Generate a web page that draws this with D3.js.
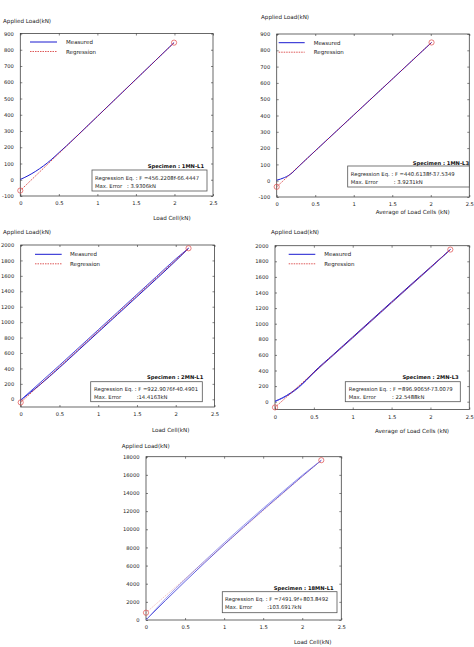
<!DOCTYPE html>
<html>
<head>
<meta charset="utf-8">
<script src="https://cdn.jsdelivr.net/npm/d3@7"></script>
<style>
  body { margin: 0; background: #fff; }
  svg { display: block; font-family: "DejaVu Sans", sans-serif; }
  .tick line { stroke: #333; stroke-width: 0.6; }
  .tick text { fill: #222; }
</style>
</head>
<body>
<svg width="474" height="647"></svg>
<script>
// **** data ****

var xTicks = [0, 0.5, 1, 1.5, 2, 2.5];
var yTicksSmall = [-100, 0, 100, 200, 300, 400, 500, 600, 700, 800, 900];
var yTicksMid = [0, 200, 400, 600, 800, 1000, 1200, 1400, 1600, 1800, 2000];
var yTicksBig = [0, 2000, 4000, 6000, 8000, 10000, 12000, 14000, 16000, 18000];

var specimens = ["1MN-L1", "1MN-L3", "2MN-L1", "2MN-L3", "18MN-L1"];
var xTitles = ["Load Cell(kN)", "Average of Load Cells (kN)", "Load Cell(kN)",
               "Average of Load Cells (kN)", "Load Cell(kN)"];
var eqTexts = ["F =456.2208f-66.4447", "F =440.6138f-37.5349", "F =922.9076f-40.4901",
               "F =896.9065f-73.0079", "F =7491.9f+803.8492"];
var errTexts = [": 3.9306kN", ": 3.9231kN", ":14.4163kN", ": 22.5488kN", ":103.6917kN"];
var slopes = [456.2208, 440.6138, 922.9076, 896.9065, 7491.9];
var intercepts = [-66.4447, -37.5349, -40.4901, -73.0079, 803.8492];
var fMax = [1.995, 2.01, 2.165, 2.256, 2.244];

// measured curves [load cell, applied load]
var meas1 = [[0, 2], [0.05, 12.6], [0.1, 24.6], [0.15, 37.8], [0.2, 52.2], [0.25, 68], [0.3, 85],
             [0.35, 103], [0.4, 123], [0.45, 144], [0.5, 166], [0.6, 209], [0.75, 276],
             [1.0, 390], [1.25, 504], [1.5, 618], [1.75, 732], [1.995, 844]];
var meas2 = [[0, 3], [0.05, 10], [0.1, 19], [0.15, 31], [0.2, 48], [0.25, 71], [0.3, 94],
             [0.5, 183], [1.0, 403], [1.5, 623], [2.01, 848]];
var meas3a = [[0, -10], [0.25, 190], [0.5, 410], [0.75, 640], [1.0, 870], [1.25, 1100],
              [1.5, 1330], [1.75, 1560], [2.0, 1795], [2.165, 1957]];
var meas3b = [[0, -10], [0.25, 215], [0.5, 440], [0.75, 670], [1.0, 900], [1.25, 1130],
              [1.5, 1360], [1.75, 1590], [2.0, 1820], [2.165, 1957]];
var meas4a = [[0, 5], [0.1, 52], [0.2, 112], [0.3, 185], [0.4, 278], [0.5, 380], [0.75, 605],
              [1.0, 830], [1.25, 1055], [1.5, 1280], [1.75, 1503], [2.0, 1724], [2.256, 1950]];
var meas4b = [[0, 5], [0.1, 47], [0.2, 104], [0.3, 178], [0.4, 270], [0.5, 370], [0.75, 595],
              [1.0, 818], [1.25, 1043], [1.5, 1268], [1.75, 1492], [2.0, 1715], [2.256, 1950]];
var meas5a = [[0, 0], [0.25, 2150], [0.5, 4250], [0.75, 6300], [1.0, 8300], [1.25, 10250],
              [1.5, 12150], [1.75, 14000], [2.0, 15850], [2.244, 17600]];
var meas5b = [[0, 0], [0.25, 2350], [0.5, 4480], [0.75, 6520], [1.0, 8500], [1.25, 10440],
              [1.5, 12320], [1.75, 14150], [2.0, 15960], [2.244, 17600]];

var measured = [[meas1], [meas2], [meas3a, meas3b], [meas4a, meas4b], [meas5a, meas5b]];
var yTickSets = [yTicksSmall, yTicksSmall, yTicksMid, yTicksMid, yTicksBig];
var yDomains = [[-100, 900], [-100, 900], [-100, 2000], [-100, 2000], [0, 18000]];

// **** layout of the five panels ****

var layout = [
  {l: 20.3, r: 213, t: 33.5, b: 196, yt: [3, 23], xt: [172, 220],
   leg: [30, 57, 42, 66], spec: [204, 167.5], box: [92, 170, 207, 191], bt: [95, 179.5, 187.5, 127]},
  {l: 276.7, r: 469.3, t: 34, b: 197, yt: [261, 19], xt: [412.7, 214],
   leg: [278.7, 304.7, 42.7, 313.7], spec: [469, 165], box: [347.7, 166, 469.3, 187], bt: [350.7, 175.5, 183.5, 393.7]},
  {l: 20.7, r: 214.5, t: 245, b: 407, yt: [3, 234], xt: [170.7, 432],
   leg: [35, 61.7, 254.3, 70], spec: [203.3, 378.5], box: [90.7, 381.7, 202.3, 401.7], bt: [94, 390.5, 398.5, 136.7]},
  {l: 275, r: 469.3, t: 245.7, b: 409.5, yt: [271, 234], xt: [412, 432.5],
   leg: [288.7, 315.3, 254.3, 324.3], spec: [458.7, 378.5], box: [345.3, 381.7, 460.3, 401.7], bt: [348.7, 390.5, 398.5, 392]},
  {l: 146, r: 341.3, t: 456.7, b: 620, yt: [121.7, 447.5], xt: [312.7, 643.5],
   leg: null, spec: [333.7, 590], box: [222.3, 591.7, 337, 612.7], bt: [225, 601, 609, 267.3]}
];

var lineColors = [['#1a1ad0'], ['#1a1ad0'], ['#1a1ad0', '#4a4ae0'], ['#1a1ad0', '#4a4ae0'], ['#3a3ad8', '#8080e8']];

var svg = d3.select('svg');

layout.forEach(function(p, i) { drawPanel(p, i); });

function drawPanel(p, i) {
    var x = d3.scaleLinear().domain([0, 2.5]).range([p.l, p.r]);
    var y = d3.scaleLinear().domain(yDomains[i]).range([p.b, p.t]);
    var g = svg.append('g');

    // frame
    g.append('rect')
        .attr('x', p.l).attr('y', p.t)
        .attr('width', p.r - p.l).attr('height', p.b - p.t)
        .attr('fill', 'none').attr('stroke', '#444').attr('stroke-width', 0.8);

    var plain = function(d) { return String(d); };
    var xAx = g.append('g').attr('transform', 'translate(0,' + p.b + ')')
        .call(d3.axisBottom(x).tickValues(xTicks).tickSize(-2).tickPadding(5.5).tickFormat(plain));
    var yAx = g.append('g').attr('transform', 'translate(' + p.l + ',0)')
        .call(d3.axisLeft(y).tickValues(yTickSets[i]).tickSize(-2).tickPadding(6.5).tickFormat(plain));
    // mirrored ticks on top and right
    var xTop = g.append('g').attr('transform', 'translate(0,' + p.t + ')')
        .call(d3.axisBottom(x).tickValues(xTicks).tickSize(2).tickFormat(''));
    var yRight = g.append('g').attr('transform', 'translate(' + p.r + ',0)')
        .call(d3.axisLeft(y).tickValues(yTickSets[i]).tickSize(2).tickFormat(''));
    [xAx, yAx, xTop, yRight].forEach(function(a) {
        a.select('.domain').remove();
        a.selectAll('text').style('font-size', '5.2px').style('font-family', '"DejaVu Sans", sans-serif');
    });

    // axis titles
    g.append('text').text('Applied Load(kN)')
        .attr('x', p.yt[0]).attr('y', p.yt[1])
        .style('font-size', '5.6px').attr('fill', '#222');
    g.append('text').text(xTitles[i])
        .attr('x', p.xt[0]).attr('y', p.xt[1])
        .attr('text-anchor', 'middle')
        .style('font-size', '5.6px').attr('fill', '#222');

    // measured curves
    var line = d3.line().x(function(d) { return x(d[0]); }).y(function(d) { return y(d[1]); })
        .curve(d3.curveMonotoneX);
    measured[i].forEach(function(m, k) {
        g.append('path').attr('d', line(m))
            .attr('fill', 'none')
            .attr('stroke', lineColors[i][k])
            .attr('stroke-width', i == 4 ? 0.8 : 1);
    });

    // regression line and its end points
    var reg = [[0, intercepts[i]], [fMax[i], intercepts[i] + slopes[i] * fMax[i]]];
    g.append('path').attr('d', d3.line().x(function(d) { return x(d[0]); })
                                         .y(function(d) { return y(d[1]); })(reg))
        .attr('fill', 'none').attr('stroke', '#d01010')
        .attr('stroke-width', 0.7).attr('stroke-dasharray', '1.5,1')
        .attr('stroke-opacity', i == 4 ? 0.35 : 1);
    g.selectAll('circle.end').data(reg).enter().append('circle')
        .attr('cx', function(d) { return x(d[0]); })
        .attr('cy', function(d) { return y(d[1]); })
        .attr('r', 2.6)
        .attr('fill', 'none').attr('stroke', '#e04848').attr('stroke-width', 0.7);

    // legend
    if (p.leg) {
        g.append('line').attr('x1', p.leg[0]).attr('x2', p.leg[1])
            .attr('y1', p.leg[2]).attr('y2', p.leg[2])
            .attr('stroke', '#1a1ad0').attr('stroke-width', 1);
        g.append('line').attr('x1', p.leg[0]).attr('x2', p.leg[1])
            .attr('y1', p.leg[2] + 9.5).attr('y2', p.leg[2] + 9.5)
            .attr('stroke', '#d01010').attr('stroke-width', 0.7).attr('stroke-dasharray', '1.5,1');
        g.append('text').text('Measured').attr('x', p.leg[3]).attr('y', p.leg[2] + 2)
            .style('font-size', '5.5px').attr('fill', '#222');
        g.append('text').text('Regression').attr('x', p.leg[3]).attr('y', p.leg[2] + 11.5)
            .style('font-size', '5.5px').attr('fill', '#222');
    }

    // specimen name and info box
    g.append('text').text('Specimen : ' + specimens[i])
        .attr('x', p.spec[0]).attr('y', p.spec[1])
        .attr('text-anchor', 'end')
        .style('font-size', '5.2px').style('font-weight', 'bold').attr('fill', '#111');
    g.append('rect')
        .attr('x', p.box[0]).attr('y', p.box[1])
        .attr('width', p.box[2] - p.box[0]).attr('height', p.box[3] - p.box[1])
        .attr('fill', '#fff').attr('stroke', '#555').attr('stroke-width', 0.8);
    g.append('text').text('Regression Eq. : ' + eqTexts[i])
        .attr('x', p.bt[0]).attr('y', p.bt[1])
        .style('font-size', '5.3px').attr('fill', '#222');
    g.append('text').text('Max. Error')
        .attr('x', p.bt[0]).attr('y', p.bt[2])
        .style('font-size', '5.3px').attr('fill', '#222');
    g.append('text').text(errTexts[i])
        .attr('x', p.bt[3]).attr('y', p.bt[2])
        .style('font-size', '5.3px').attr('fill', '#222');
}
</script>
</body>
</html>
